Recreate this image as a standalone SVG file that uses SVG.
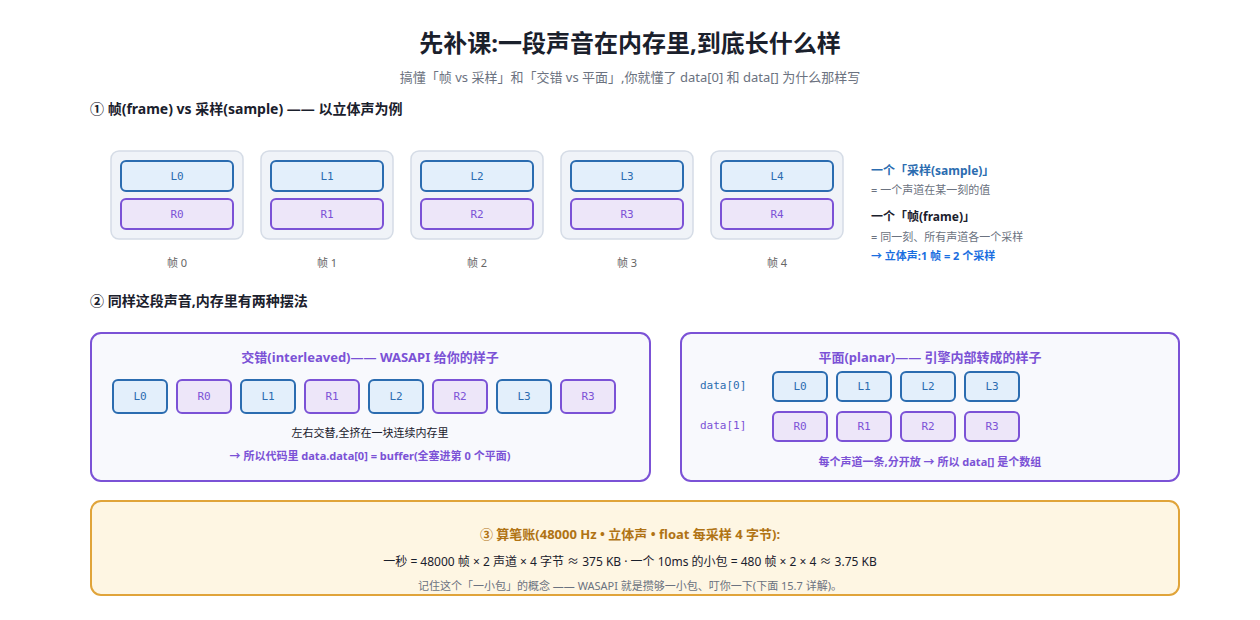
<svg xmlns="http://www.w3.org/2000/svg" width="1260" height="620" viewBox="0 0 1260 620">
<style>
text{font-family:"Noto Sans","Noto Sans CJK SC",sans-serif}
.mono{font-family:"DejaVu Sans Mono","Noto Sans CJK SC",monospace;font-size:11px}
.frame{fill:#f0f3f8;stroke:#d5dce6;stroke-width:1.5}
.l{fill:#e3effb;stroke:#2b6cb0;stroke-width:2}
.r{fill:#ede6f9;stroke:#7b52d6;stroke-width:2}
.lt{fill:#2b6cb0;text-anchor:middle}
.rt{fill:#7b52d6;text-anchor:middle}
.h{font-size:14px;font-weight:bold;fill:#1a202c}
.cap{font-size:11px;fill:#666;text-anchor:middle}
.panel{fill:#f8f9fd;stroke:#7b52d6;stroke-width:2}
</style>
<rect width="1260" height="620" fill="#fff"/>
<text x="630" y="52" font-size="24" font-weight="bold" fill="#1a202c" text-anchor="middle">先补课:一段声音在内存里,到底长什么样</text>
<text x="630" y="82" font-size="13" fill="#6b7280" text-anchor="middle">搞懂「帧 vs 采样」和「交错 vs 平面」,你就懂了 data[0] 和 data[] 为什么那样写</text>
<text x="90" y="114" class="h">① 帧(frame) vs 采样(sample) —— 以立体声为例</text>
<g id="frame0"><rect x="111" y="151" width="132" height="88" rx="8" class="frame"/><rect x="121" y="161" width="112" height="30" rx="5" class="l"/><text x="177" y="180" class="mono lt">L0</text><rect x="121" y="199" width="112" height="30" rx="5" class="r"/><text x="177" y="218" class="mono rt">R0</text><text x="177" y="267" class="cap">帧 0</text></g>
<g id="frame1"><rect x="261" y="151" width="132" height="88" rx="8" class="frame"/><rect x="271" y="161" width="112" height="30" rx="5" class="l"/><text x="327" y="180" class="mono lt">L1</text><rect x="271" y="199" width="112" height="30" rx="5" class="r"/><text x="327" y="218" class="mono rt">R1</text><text x="327" y="267" class="cap">帧 1</text></g>
<g id="frame2"><rect x="411" y="151" width="132" height="88" rx="8" class="frame"/><rect x="421" y="161" width="112" height="30" rx="5" class="l"/><text x="477" y="180" class="mono lt">L2</text><rect x="421" y="199" width="112" height="30" rx="5" class="r"/><text x="477" y="218" class="mono rt">R2</text><text x="477" y="267" class="cap">帧 2</text></g>
<g id="frame3"><rect x="561" y="151" width="132" height="88" rx="8" class="frame"/><rect x="571" y="161" width="112" height="30" rx="5" class="l"/><text x="627" y="180" class="mono lt">L3</text><rect x="571" y="199" width="112" height="30" rx="5" class="r"/><text x="627" y="218" class="mono rt">R3</text><text x="627" y="267" class="cap">帧 3</text></g>
<g id="frame4"><rect x="711" y="151" width="132" height="88" rx="8" class="frame"/><rect x="721" y="161" width="112" height="30" rx="5" class="l"/><text x="777" y="180" class="mono lt">L4</text><rect x="721" y="199" width="112" height="30" rx="5" class="r"/><text x="777" y="218" class="mono rt">R4</text><text x="777" y="267" class="cap">帧 4</text></g>
<g id="legend">
<text x="871" y="175" font-size="12" font-weight="bold" fill="#2b6cb0">一个「采样(sample)」</text>
<text x="871" y="194" font-size="11" fill="#6b7280">= 一个声道在某一刻的值</text>
<text x="871" y="221" font-size="12" font-weight="bold" fill="#1a202c">一个「帧(frame)」</text>
<text x="871" y="241" font-size="11" fill="#6b7280">= 同一刻、所有声道各一个采样</text>
<text x="871" y="260" font-size="11" font-weight="bold" fill="#1a6ee0">→ 立体声:1 帧 = 2 个采样</text>
</g>
<text x="90" y="306" class="h">② 同样这段声音,内存里有两种摆法</text>
<g id="interleaved">
<rect x="91" y="333" width="559" height="148" rx="10" class="panel"/>
<text x="370" y="362" font-size="13" font-weight="bold" fill="#7b52d6" text-anchor="middle">交错(interleaved)—— WASAPI 给你的样子</text>
<rect x="113" y="380" width="54" height="33" rx="5" class="l"/><text x="140" y="400" class="mono lt">L0</text>
<rect x="177" y="380" width="54" height="33" rx="5" class="r"/><text x="204" y="400" class="mono rt">R0</text>
<rect x="241" y="380" width="54" height="33" rx="5" class="l"/><text x="268" y="400" class="mono lt">L1</text>
<rect x="305" y="380" width="54" height="33" rx="5" class="r"/><text x="332" y="400" class="mono rt">R1</text>
<rect x="369" y="380" width="54" height="33" rx="5" class="l"/><text x="396" y="400" class="mono lt">L2</text>
<rect x="433" y="380" width="54" height="33" rx="5" class="r"/><text x="460" y="400" class="mono rt">R2</text>
<rect x="497" y="380" width="54" height="33" rx="5" class="l"/><text x="524" y="400" class="mono lt">L3</text>
<rect x="561" y="380" width="54" height="33" rx="5" class="r"/><text x="588" y="400" class="mono rt">R3</text>
<text x="370" y="437" font-size="11" fill="#1a202c" text-anchor="middle">左右交替,全挤在一块连续内存里</text>
<text x="370" y="460" font-size="11" font-weight="bold" fill="#7b52d6" text-anchor="middle">→ 所以代码里 data.data[0] = buffer(全塞进第 0 个平面)</text>
</g>
<g id="planar">
<rect x="681" y="333" width="498" height="148" rx="10" class="panel"/>
<text x="930" y="362" font-size="13" font-weight="bold" fill="#7b52d6" text-anchor="middle">平面(planar)—— 引擎内部转成的样子</text>
<text x="700" y="389" class="mono" font-size="10" fill="#2b6cb0">data[0]</text>
<text x="700" y="429" class="mono" font-size="10" fill="#7b52d6">data[1]</text>
<rect x="773" y="372" width="54" height="29" rx="5" class="l"/><text x="800" y="390" class="mono lt">L0</text>
<rect x="837" y="372" width="54" height="29" rx="5" class="l"/><text x="864" y="390" class="mono lt">L1</text>
<rect x="901" y="372" width="54" height="29" rx="5" class="l"/><text x="928" y="390" class="mono lt">L2</text>
<rect x="965" y="372" width="54" height="29" rx="5" class="l"/><text x="992" y="390" class="mono lt">L3</text>
<rect x="773" y="412" width="54" height="29" rx="5" class="r"/><text x="800" y="430" class="mono rt">R0</text>
<rect x="837" y="412" width="54" height="29" rx="5" class="r"/><text x="864" y="430" class="mono rt">R1</text>
<rect x="901" y="412" width="54" height="29" rx="5" class="r"/><text x="928" y="430" class="mono rt">R2</text>
<rect x="965" y="412" width="54" height="29" rx="5" class="r"/><text x="992" y="430" class="mono rt">R3</text>
<text x="930" y="466" font-size="11" font-weight="bold" fill="#7b52d6" text-anchor="middle">每个声道一条,分开放 → 所以 data[] 是个数组</text>
</g>
<g id="math">
<rect x="91" y="501" width="1088" height="94" rx="10" fill="#fef6e3" stroke="#e0a43a" stroke-width="2"/>
<text x="630" y="539" font-size="13" font-weight="bold" fill="#b07314" text-anchor="middle">③ 算笔账(48000 Hz • 立体声 • float 每采样 4 字节):</text>
<text x="630" y="566" font-size="12" fill="#1a202c" text-anchor="middle">一秒 = 48000 帧 × 2 声道 × 4 字节 ≈ 375 KB  ·  一个 10ms 的小包 = 480 帧 × 2 × 4 ≈ 3.75 KB</text>
<text x="630" y="590" font-size="11" fill="#6b7280" text-anchor="middle">记住这个「一小包」的概念 —— WASAPI 就是攒够一小包、叮你一下(下面 15.7 详解)。</text>
</g>
<g id="connectors"/>
</svg>
